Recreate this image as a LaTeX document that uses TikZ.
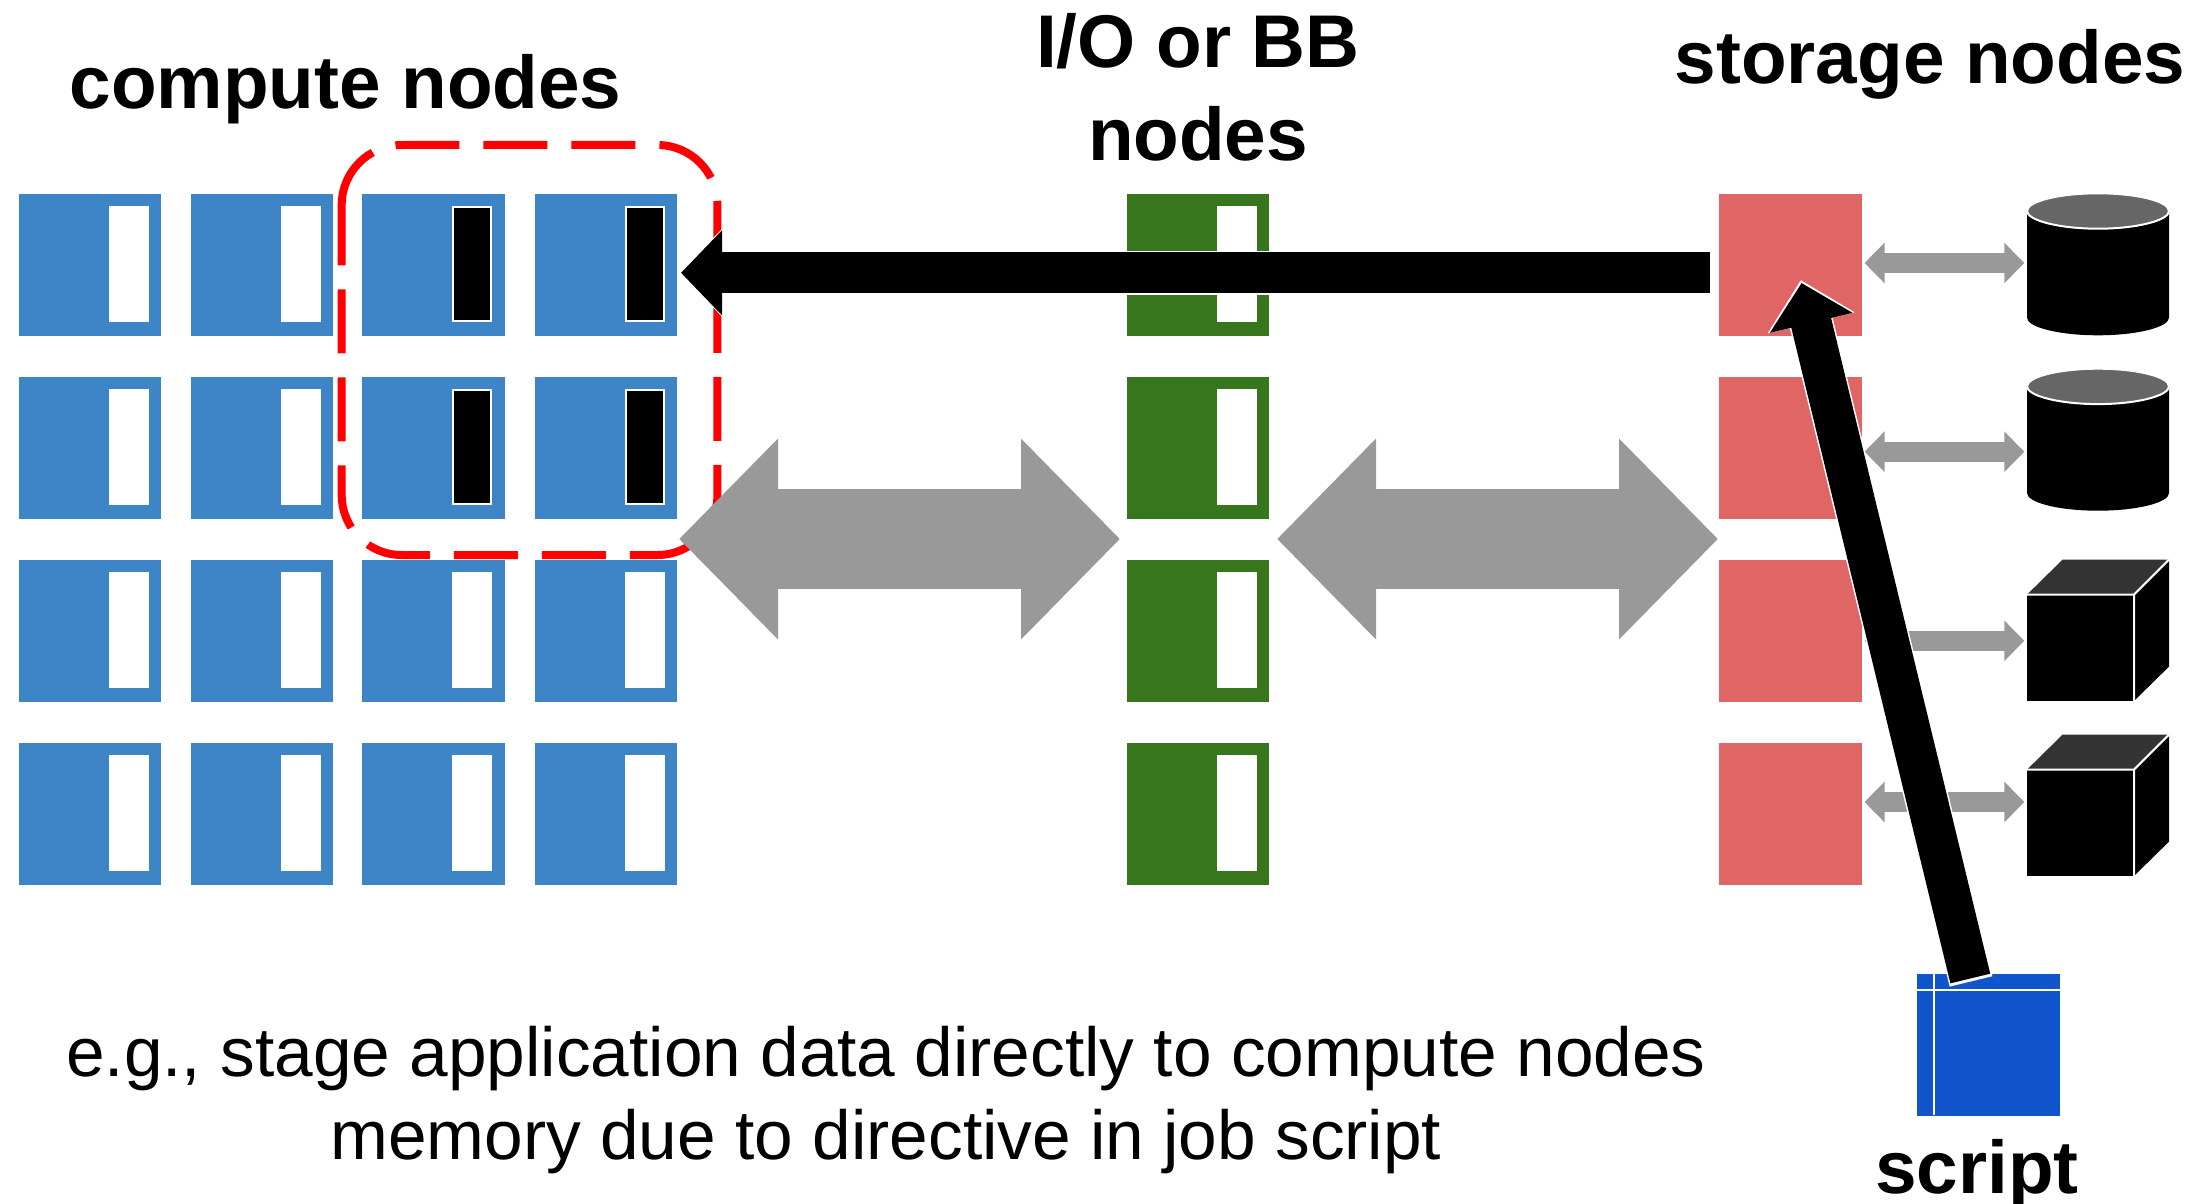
\documentclass[tikz,border=0pt]{standalone}
\usepackage{fontspec}
\setmainfont{Liberation Sans}
\usetikzlibrary{arrows.meta,calc}
\definecolor{nodeblue}{HTML}{3D85C6}
\definecolor{nodegreen}{HTML}{38761D}
\definecolor{nodered}{HTML}{E06666}
\definecolor{flowgray}{HTML}{999999}
\definecolor{lidgray}{HTML}{666666}
\definecolor{cubetop}{HTML}{333333}
\definecolor{scriptblue}{HTML}{1155CC}
\tikzset{
  x=0.5pt,y=-0.5pt,
  nodebox/.style={minimum width=71.2pt,minimum height=71pt,inner sep=0pt,outer sep=0pt,draw=none},
  slot/.style={minimum width=20pt,minimum height=58.2pt,inner sep=0pt,outer sep=0pt,fill=white},
  busyslot/.style={slot,fill=black,draw=white,line width=1pt,minimum width=19pt,minimum height=57.2pt},
  bigflow/.style={draw=flowgray,line width=50pt,{Triangle[length=49.5pt,width=97.5pt,fill=flowgray]}-{Triangle[length=49.5pt,width=97.5pt,fill=flowgray]}},
  smallflow/.style={draw=flowgray,line width=10pt,{Triangle[length=10pt,width=19.7pt,fill=flowgray]}-{Triangle[length=10pt,width=19.7pt,fill=flowgray]}},
  blackflow/.style={draw=black,line width=20.5pt,-{Triangle[length=20.5pt,width=41.3pt,fill=black]}},
  blackhalo/.style={draw=white,line width=22pt,-{Triangle[length=22pt,width=43.5pt,fill=white]}},
  bold/.style={font=\fontsize{37.35}{42}\selectfont\bfseries,anchor=base,inner sep=0pt},
  plain/.style={font=\fontsize{34.7}{40}\selectfont,anchor=base,inner sep=0pt},
  solid edge/.style={draw=white,line width=1pt},
}
\begin{document}
\begin{tikzpicture}
\useasboundingbox (0,0) rectangle (2195,1204);
% compute nodes
\foreach \c/\x in {1/89.8,2/261.7,3/433.5,4/605.7}{
  \foreach \r/\y in {1/264.6,2/447.6,3/630.6,4/813.6}{
    \node[nodebox,fill=nodeblue] (c\c\r) at (\x,\y) {};
    \node[slot] (s\c\r) at ($(c\c\r)+(38.8,-0.8)$) {};
  }
}
\foreach \n in {31,41,32,42}{
  \node[busyslot] (b\n) at (s\n) {};
}
% I/O nodes and storage nodes
\foreach \r/\y in {1/264.6,2/447.6,3/630.6,4/813.6}{
  \node[nodebox,fill=nodegreen] (g\r) at (1198,\y) {};
  \node[slot] (gs\r) at ($(g\r)+(38.8,-0.8)$) {};
  \node[nodebox,fill=nodered] (r\r) at (1790.5,\y) {};
}
% red selection
\draw[red,line width=4pt,rounded corners=30pt,dash pattern=on 32pt off 12pt]
  (341.7,205) -- (341.7,145) -- (717.4,145) -- (717.4,555) -- (341.7,555) -- (341.7,205);
% storage devices
\foreach \n/\t in {1/193.3,2/368.7}{
  \coordinate (cyl\n) at (2098,\t);
  \fill[black] (2027,\t+18) -- (2027,\t+124.3) .. controls (2027,\t+134) and (2059,\t+142) .. (2098,\t+142)
     .. controls (2137,\t+142) and (2169,\t+134) .. (2169,\t+124.3) -- (2169,\t+18) -- cycle;
  \draw[fill=lidgray,solid edge] (2027,\t+17.7) .. controls (2027,\t+8) and (2059,\t) .. (2098,\t)
     .. controls (2137,\t) and (2169,\t+8) .. (2169,\t+17.7)
     .. controls (2169,\t+27) and (2137,\t+35.4) .. (2098,\t+35.4)
     .. controls (2059,\t+35.4) and (2027,\t+27) .. (2027,\t+17.7) -- cycle;
}
\foreach \n/\t in {1/559.6,2/734.6}{
  \coordinate (cube\n) at (2098,\t);
  \fill[cubetop] (2027,\t+35) -- (2062.6,\t) -- (2169,\t) -- (2134,\t+35) -- cycle;
  \fill[black] (2027,\t+35) rectangle (2134,\t+141.4);
  \fill[black] (2134,\t+35) -- (2169,\t) -- (2169,\t+107) -- (2134,\t+141.4) -- cycle;
  \draw[solid edge] (2027,\t+35) -- (2134,\t+35) -- (2169,\t) (2134,\t+35) -- (2134,\t+141.4);
}
% flow end points
\coordinate (ca) at (679,539);   \coordinate (cb) at (1120,539);
\coordinate (cc) at (1277,539);  \coordinate (cd) at (1718,539);
\coordinate (d1a) at (1864.5,263);   \coordinate (d1b) at (2024.3,263);
\coordinate (d2a) at (1864.5,451.7); \coordinate (d2b) at (2024.3,451.7);
\coordinate (d3a) at (1864.5,640.8); \coordinate (d3b) at (2024.3,640.8);
\coordinate (d4a) at (1864.5,802);   \coordinate (d4b) at (2024.3,802);
\coordinate (sa) at (1710,272.8);    \coordinate (sb) at (681,272.8);
\coordinate (ua) at (1970.3,978.5);  \coordinate (ub) at (1801.5,283);
% script
\node[nodebox,fill=scriptblue,minimum height=71pt] (scr) at (1988.3,1044.6) {};
\draw[solid edge] (1934,973.3) -- (1934,1115.4) (1917,990.4) -- (2059.5,990.4);
% flows
\draw[bigflow] (ca) -- (cb);
\draw[bigflow] (cc) -- (cd);
\foreach \n in {1,2,3,4}{ \draw[smallflow] (d\n a) -- (d\n b); }
\draw[blackhalo] ($(sa)+(1,0)$) -- ($(sb)+(-2,0)$);
\draw[blackflow] (sa) -- (sb);
\draw[blackhalo] ($(ua)!-1.5pt!(ub)$) -- ($(ub)!-1.5pt!(ua)$);
\draw[blackflow] (ua) -- (ub);
% labels
\node[bold] (t1) at (345.5,109) {compute nodes};
\node[bold] (t2) at (1198,68) {I/O or BB};
\node[bold] (t3) at (1198,161) {nodes};
\node[bold] (t4) at (1930,84) {storage nodes};
\node[bold] (t5) at (1977,1193) {script};
\node[plain] (t6) at (886,1076) {e.g., stage application data directly to compute nodes};
\node[plain] (t7) at (886,1159) {memory due to directive in job script};
\end{tikzpicture}
\end{document}
